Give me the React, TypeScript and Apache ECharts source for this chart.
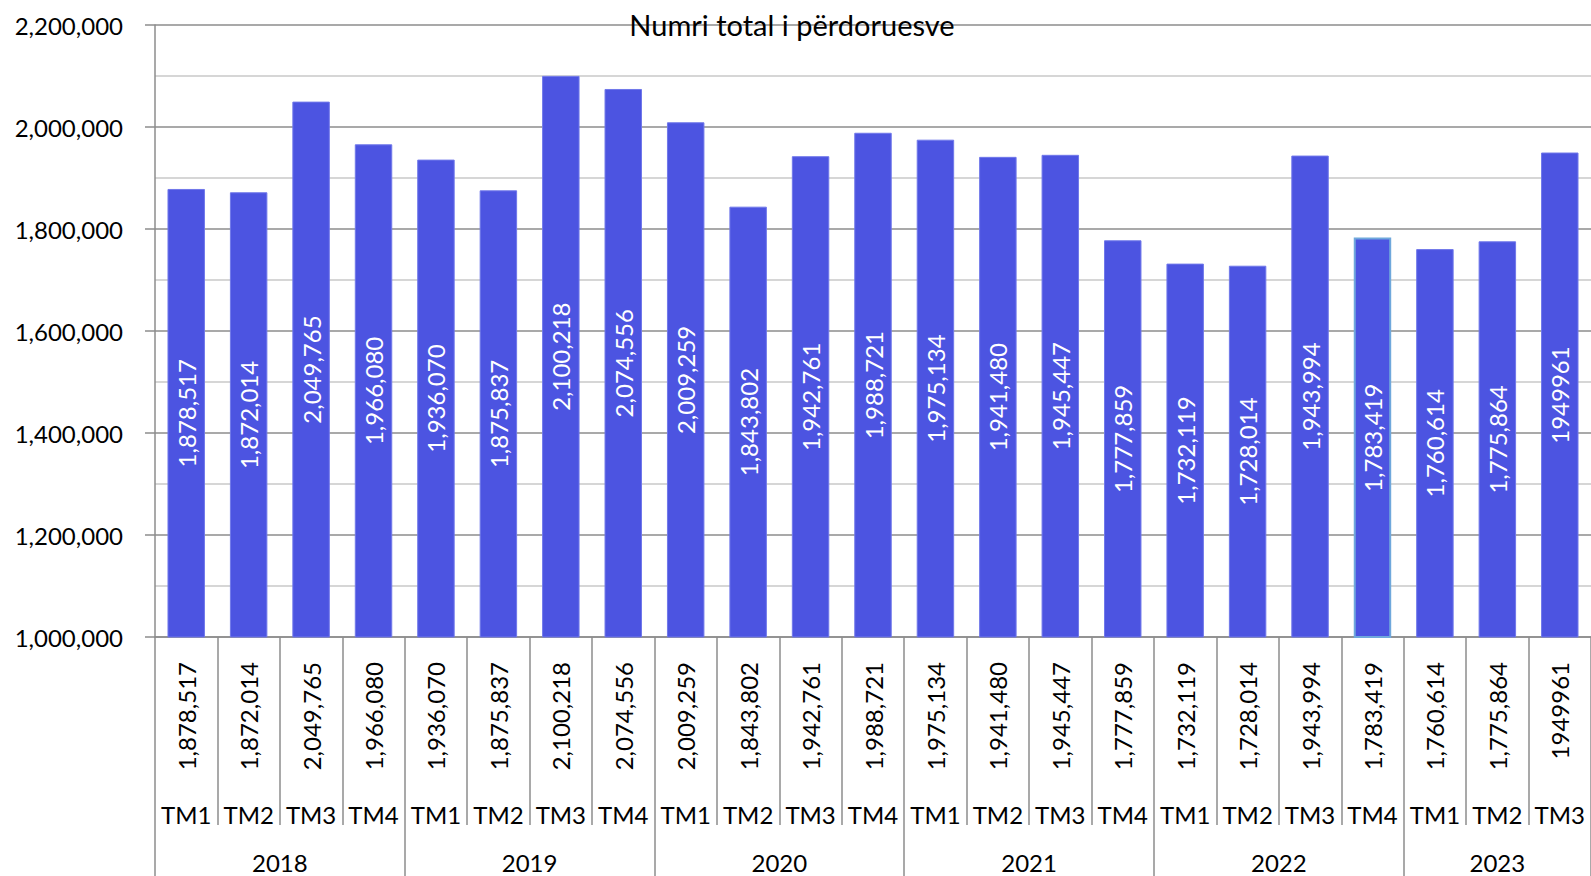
import React, { useEffect, useRef } from "react";
import * as echarts from "echarts";

const title = "Numri total i përdoruesve";
const years = ["2018", "2019", "2020", "2021", "2022", "2023"];
const quartersPerYear = [4, 4, 4, 4, 4, 3];
const quarters = [
  "TM1", "TM2", "TM3", "TM4",
  "TM1", "TM2", "TM3", "TM4",
  "TM1", "TM2", "TM3", "TM4",
  "TM1", "TM2", "TM3", "TM4",
  "TM1", "TM2", "TM3", "TM4",
  "TM1", "TM2", "TM3",
];
const users = [
  1878517, 1872014, 2049765, 1966080,
  1936070, 1875837, 2100218, 2074556,
  2009259, 1843802, 1942761, 1988721,
  1975134, 1941480, 1945447, 1777859,
  1732119, 1728014, 1943994, 1783419,
  1760614, 1775864, 1949961,
];
// the source prints this value without thousands separators
const plainLabelIndices = [22];
const highlightedIndex = 19;
const yMin = 1000000;
const yMax = 2200000;
const yInterval = 200000;

const FONT = "Lato";

function valueLabel(i: number): string {
  const v = users[i];
  return plainLabelIndices.includes(i) ? String(v) : v.toLocaleString("en-US");
}

export default function App() {
  const ref = useRef<HTMLDivElement>(null);
  useEffect(() => {
    if (!ref.current) return;
    const chart = echarts.init(ref.current, null, { renderer: "svg" });

    // year boundaries and centres on a 0..N scale
    const total = quartersPerYear.reduce((a, b) => a + b, 0);
    const boundaries: number[] = [0];
    const centres: number[] = [];
    let acc = 0;
    quartersPerYear.forEach((n) => {
      centres.push(acc + n / 2);
      acc += n;
      boundaries.push(acc);
    });

    const gray = "#8c8c8c";

    chart.setOption({
      animation: false,
      title: {
        text: title,
        left: 787,
        textAlign: "center",
        top: 5,
        textStyle: { fontFamily: FONT, fontSize: 29, fontWeight: "normal", color: "#000" },
      },
      grid: { left: 155, right: 0, top: 25, bottom: 239, containLabel: false },
      xAxis: [
        {
          type: "category",
          data: quarters,
          position: "bottom",
          boundaryGap: true,
          axisLine: { show: true, lineStyle: { color: gray, width: 1.5 } },
          axisTick: {
            show: true,
            interval: 0,
            alignWithLabel: false,
            length: 188,
            lineStyle: { color: gray, width: 1.5 },
          },
          axisLabel: {
            interval: 0,
            rotate: 90,
            margin: 25,
            fontFamily: FONT,
            fontSize: 24,
            color: "#000",
            formatter: (_v: string, i: number) => valueLabel(i),
          },
          splitLine: { show: false },
        },
        {
          type: "category",
          data: quarters,
          position: "bottom",
          boundaryGap: true,
          axisLine: { show: false },
          axisTick: { show: false },
          axisLabel: {
            interval: 0,
            margin: 165,
            fontFamily: FONT,
            fontSize: 24,
            color: "#000",
          },
          splitLine: { show: false },
        },
        {
          type: "value",
          min: 0,
          max: total,
          position: "bottom",
          offset: 188,
          axisLine: { show: false },
          axisTick: {
            show: true,
            customValues: boundaries,
            length: 70,
            lineStyle: { color: gray, width: 1.5 },
          },
          axisLabel: {
            customValues: centres,
            margin: 25,
            fontFamily: FONT,
            fontSize: 24,
            lineHeight: 24,
            color: "#000",
            formatter: (v: number) => {
              const k = centres.findIndex((c) => Math.abs(c - v) < 1e-6);
              return k >= 0 ? years[k] : "";
            },
          },
          splitLine: { show: false },
        },
      ],
      yAxis: {
        type: "value",
        min: yMin,
        max: yMax,
        interval: yInterval,
        axisLine: { show: true, lineStyle: { color: gray, width: 1.5 } },
        axisTick: { show: true, length: 10, lineStyle: { color: gray, width: 1.5 } },
        axisLabel: {
          margin: 32,
          fontFamily: FONT,
          fontSize: 24,
          color: "#000",
          formatter: (v: number) => v.toLocaleString("en-US"),
        },
        splitLine: { show: true, lineStyle: { color: gray, width: 1.5 } },
        minorTick: { show: false, splitNumber: 2 },
        minorSplitLine: { show: true, lineStyle: { color: "#c8c8c8", width: 1.5 } },
      },
      series: [
        {
          type: "bar",
          xAxisIndex: 0,
          barWidth: "60%",
          data: users.map((v, i) =>
            i === highlightedIndex
              ? { value: v, itemStyle: { borderColor: "#6fa8dc", borderWidth: 2 } }
              : v
          ),
          itemStyle: { color: "#4c54e1", borderColor: "#7078ea", borderWidth: 1 },
          label: {
            show: true,
            position: "inside",
            rotate: 90,
            fontFamily: FONT,
            fontSize: 24,
            color: "#fff",
            formatter: (p: any) => valueLabel(p.dataIndex),
          },
        },
      ],
    });
    return () => chart.dispose();
  }, []);
  return (
    <div
      ref={ref}
      style={{ position: "fixed", left: 0, top: 0, width: 1591, height: 876, background: "#fff" }}
    />
  );
}
